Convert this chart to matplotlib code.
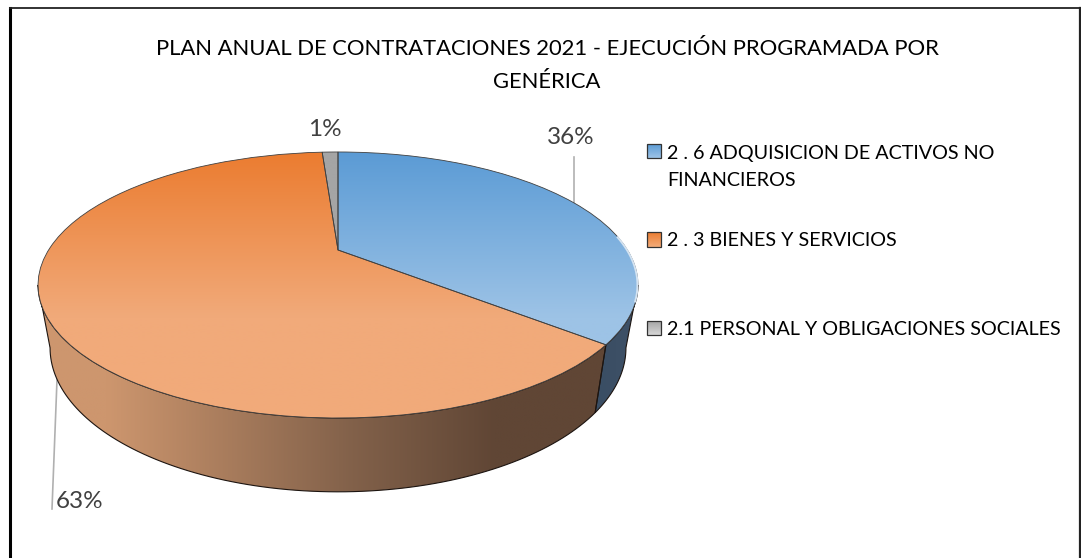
import numpy as np
import matplotlib
matplotlib.use("Agg")
import matplotlib.pyplot as plt
from matplotlib.path import Path
from matplotlib.patches import PathPatch, Rectangle
from matplotlib.transforms import Transform

categories = ["2 . 6 ADQUISICION DE ACTIVOS NO\nFINANCIEROS", "2 . 3 BIENES Y SERVICIOS",
              "2.1 PERSONAL Y OBLIGACIONES SOCIALES"]
values = [36, 62.9, 1.1]
pct_labels = ["36%", "63%", "1%"]
title = "PLAN ANUAL DE CONTRATACIONES 2021 - EJECUCIÓN PROGRAMADA POR\nGENÉRICA"

FONT = "Lato"
W_PX, H_PX = 1081, 558
K = 0.263


class Perspective(Transform):
    input_dims = output_dims = 2
    is_affine = False
    has_inverse = False

    def __init__(self, x0, y0, w, h):
        super().__init__()
        self.p = (x0, y0, w, h)

    def transform_non_affine(self, v):
        v = np.asarray(v, float)
        x0, y0, w, h = self.p
        d = 1 + K * v[:, 1]
        return np.column_stack([x0 + w * v[:, 0] / d, y0 - h * v[:, 1] / d])


top_face = Perspective(338, 250, 289.4, 123.8)
bot_face = Perspective(338, 310, 277.8, 134)


def grad(stops, horizontal=False):
    pos = np.linspace(0, 1, 256)
    arr = np.stack([np.interp(pos, [s[0] for s in stops], [s[1][i] / 255 for s in stops]) for i in range(3)], axis=-1)
    return arr[None, :, :] if horizontal else arr[:, None, :]


fig = plt.figure(figsize=(W_PX / 100, H_PX / 100), dpi=100)
ax = fig.add_axes([0, 0, 1, 1])

wedges, _ = ax.pie(values, startangle=90, counterclock=False, radius=1)
ax.set_aspect("auto")
ax.set_xlim(0, W_PX)
ax.set_ylim(H_PX, 0)
ax.set_axis_off()

# frame
ax.plot([10, 10], [H_PX, 8], color="black", lw=2.2, zorder=1)
ax.plot([10, 1080], [8, 8], color="#222222", lw=1.3, zorder=1)
ax.plot([1080, 1080], [8, H_PX], color="#222222", lw=1.6, zorder=1)

# sides, from the slice boundaries (clockwise from 12 o'clock)
bounds = np.cumsum([0] + values) / sum(values) * 2 * np.pi
ext = np.arccos(-K)


def side_path(a, b):
    t = np.linspace(a, b, 100)
    uv = np.column_stack([np.sin(t), np.cos(t)])
    upper = top_face.transform_non_affine(uv)
    lower = bot_face.transform_non_affine(uv)[::-1]
    return Path(np.vstack([upper, lower, upper[:1]]), closed=True)


side_specs = [
    (side_path(ext, bounds[1]), grad([(0, (58, 78, 100)), (1, (62, 80, 102))], True)),
    (side_path(bounds[1], 2 * np.pi - ext), grad([(0, (205, 150, 110)), (0.12, (205, 150, 110)), (0.55, (130, 97, 74)),
                                                    (0.8, (96, 70, 53)), (1, (96, 70, 53))], True)),
]
for path, g in side_specs:
    patch = PathPatch(path, transform=ax.transData, fc="none", ec="#1c1410", lw=0.8, zorder=3.2)
    ax.add_patch(patch)
    xs = path.vertices[:, 0]
    ys = path.vertices[:, 1]
    ext_box = (38, 610, ys.max(), ys.min()) if g[0, 0, 0] > 0.5 else (xs.min(), xs.max(), ys.max(), ys.min())
    im = ax.imshow(g, extent=ext_box, aspect="auto", zorder=3, interpolation="bilinear")
    im.set_clip_path(patch)

# top faces
face_grads = [
    grad([(0, (91, 155, 213)), (0.62, (157, 195, 230)), (1, (157, 195, 230))]),
    grad([(0, (235, 124, 48)), (0.62, (241, 170, 122)), (1, (241, 170, 122))]),
    grad([(0, (165, 165, 165)), (1, (165, 165, 165))]),
]
for w, g in zip(wedges, face_grads):
    w.set_transform(top_face + ax.transData)
    w.set_facecolor("none")
    w.set_edgecolor("#404040")
    w.set_linewidth(0.6)
    w.set_zorder(5)
    im = ax.imshow(g, extent=(30, 645, 418, 152), aspect="auto", zorder=4, interpolation="bilinear")
    im.set_clip_path(w)
ax.set_xlim(0, W_PX)
ax.set_ylim(H_PX, 0)

# bright rim on the right edge
rim_t = np.radians(np.linspace(84, 112, 30))
rim = top_face.transform_non_affine(np.column_stack([np.sin(rim_t), np.cos(rim_t)]))
ax.plot(rim[:, 0] - 0.5, rim[:, 1], color="#d4e3f1", lw=1.4, zorder=6)

# leaders and percentage labels
ax.plot([574, 574], [157, 204], color="#b0b0b0", lw=1.2, zorder=2)
ax.plot([57, 52], [380, 509], color="#b0b0b0", lw=1.2, zorder=2)
txt_style = dict(family=FONT, color="#404040", fontsize=17.5, ha="center", va="center")
for label, pos in zip(pct_labels, [(571, 138), (80, 501), (325, 129)]):
    ax.text(pos[0], pos[1], label, **txt_style)

ax.text(547, 65.5, title, family=FONT, color="black", fontsize=15.8, ha="center", va="center", linespacing=1.85)

# legend
swatches = [grad([(0, (91, 155, 213)), (1, (158, 196, 231))]),
            grad([(0, (235, 124, 48)), (1, (243, 172, 122))]),
            grad([(0, (165, 165, 165)), (1, (215, 215, 215))])]
legend_y = [(144, 158), (232, 247), (321, 335)]
text_y = [167, 240.5, 329.5]
for cat, g, (y0, y1), ty in zip(categories, swatches, legend_y, text_y):
    ax.imshow(g, extent=(647, 661, y1, y0), aspect="auto", zorder=4)
    ax.add_patch(Rectangle((647, y0), 14, y1 - y0, fc="none", ec="#333333", lw=0.9, zorder=5))
    ax.text(667, ty, cat, family=FONT, color="black", fontsize=14.2, ha="left", va="center", linespacing=1.78)
ax.set_xlim(0, W_PX)
ax.set_ylim(H_PX, 0)

fig.savefig("out.png", dpi=100)
